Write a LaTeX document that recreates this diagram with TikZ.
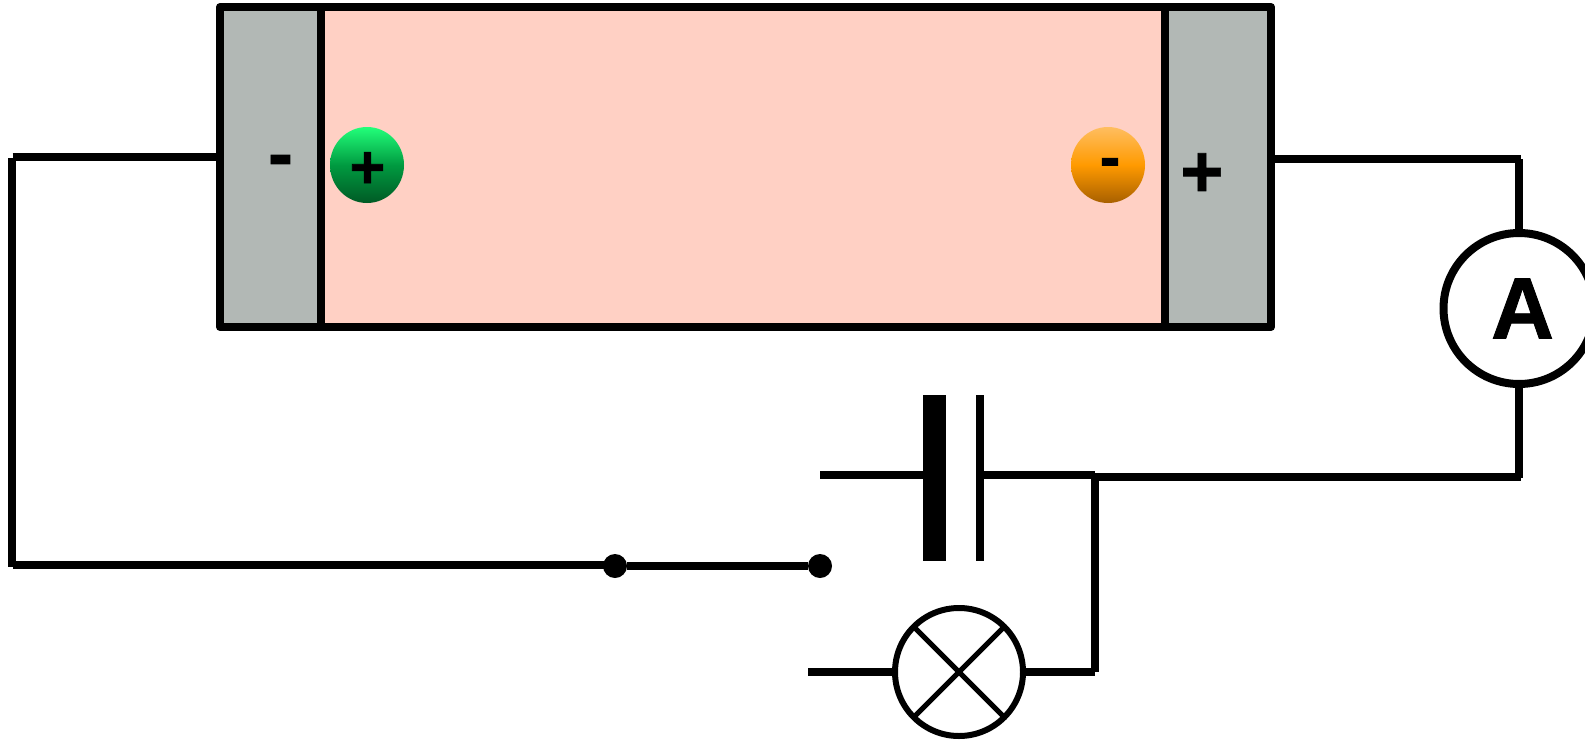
\documentclass[tikz,border=0pt]{standalone}
\usepackage{fontspec}
\setmainfont[BoldFont={Liberation Sans Bold}, BoldFeatures={FakeBold=1}]{Liberation Sans}
\usetikzlibrary{shapes.geometric}
\definecolor{electrodegray}{HTML}{B2B8B5}
\definecolor{cellpink}{HTML}{FFD0C4}
\definecolor{cationtop}{HTML}{22FF7A}
\definecolor{cationmid}{HTML}{009A40}
\definecolor{cationbot}{HTML}{005A25}
\definecolor{aniontop}{HTML}{FFBE60}
\definecolor{anionmid}{HTML}{FF9A00}
\definecolor{anionbot}{HTML}{A86000}
\tikzset{
    wire/.style={line width=8pt},
    panel/.style={rectangle, inner sep=0pt, outer sep=0pt},
    ion/.style={ellipse, inner sep=0pt, outer sep=0pt, minimum width=74pt, minimum height=76pt},
    terminal/.style={circle, fill=black, inner sep=0pt, outer sep=0pt, minimum size=24pt},
    meter/.style={circle, draw, fill=white, inner sep=0pt, outer sep=0pt},
    sign/.style={inner sep=0pt, outer sep=0pt, text=black, font=\bfseries\fontsize{#1}{#1}\selectfont},
}
\begin{document}
\begin{tikzpicture}[x=1pt, y=-1pt]
    \useasboundingbox (0, 0) rectangle (1585, 739);
    \node[panel, fill=electrodegray, minimum width=101pt, minimum height=320pt] (anode) at (270.5, 167) {};
    \node[panel, fill=cellpink, minimum width=844pt, minimum height=320pt] (cell) at (743, 167) {};
    \node[panel, fill=electrodegray, minimum width=106pt, minimum height=320pt] (cathode) at (1218, 167) {};
    \draw[wire, line join=round] (anode.north west) rectangle (cathode.south east);
    \foreach \side in {anode.north east, cathode.north west} {
        \draw[wire] (\side) -- ++(0, 320);
    };
    \node[ion, top color=cationtop, bottom color=cationbot, middle color=cationmid] (cation) at (367, 165) {};
    \node[ion, top color=aniontop, bottom color=anionbot, middle color=anionmid] (anion) at (1108, 165) {};
    \node[sign=75] (minusleft) at (280.5, 167) {-};
    \node[sign=61] (pluscation) at (367.5, 170) {+};
    \node[sign=62] (minusanion) at (1110, 168) {-};
    \node[sign=74] (plusright) at (1202, 175) {+};

    \node[meter, line width=8pt, minimum size=151pt] (ammeter) at (1519, 308.5) {};
    \node[sign=87] (ammeterlabel) at (1522.5, 308.5) {A};
    \node[meter, line width=6pt, minimum size=128pt] (lamp) at (959, 672) {};
    \draw[line width=5pt] (lamp.45) -- (lamp.225);
    \draw[line width=5pt] (lamp.135) -- (lamp.315);

    \node[panel, fill=black, minimum width=23pt, minimum height=166pt] (thickplate) at (934.5, 478) {};
    \node[panel, fill=black, minimum width=8pt, minimum height=166pt] (thinplate) at (980, 478) {};
    \node[terminal] (dotleft) at (615, 566) {};
    \node[terminal] (dotright) at (820, 566) {};

    \coordinate (cornerA) at (12.7, 156.5);
    \coordinate (cornerB) at (12, 158);
    \coordinate (cornerC) at (12, 566.5);
    \coordinate (cornerH) at (12.7, 565);
    \coordinate (cornerD) at (1521, 159);
    \coordinate (cornerE) at (1519, 159);
    \coordinate (cornerF) at (1519, 478);
    \coordinate (cornerG) at (1521, 476.5);
    \coordinate (junctionT) at (1095, 475);
    \coordinate (junctionV) at (1095, 476.5);
    \coordinate (junctionB) at (1095, 672);
    \coordinate (junctionR) at (1094, 476.5);
    \coordinate (batteryend) at (820, 475);
    \coordinate (lampend) at (808, 672);

    \draw[wire] (cornerA) -- (cornerA -| anode.west);
    \draw[wire] (cornerB) -- (cornerC);
    \draw[wire] (cornerH) -- (cornerH -| dotleft);
    \draw[wire] (dotleft) -- (dotright);
    \draw[wire] (cornerD -| cathode.east) -- (cornerD);
    \draw[wire] (cornerE) -- (ammeter);
    \draw[wire] (ammeter) -- (cornerF);
    \draw[wire] (junctionR) -- (cornerG);
    \draw[wire] (batteryend) -- (batteryend -| thickplate.west);
    \draw[wire] (batteryend -| thinplate.east) -- (junctionT);
    \draw[wire] (junctionV) -- (junctionB);
    \draw[wire] (lampend) -- (lamp.west);
    \draw[wire] (lamp.east) -- (junctionB);
\end{tikzpicture}
\end{document}
